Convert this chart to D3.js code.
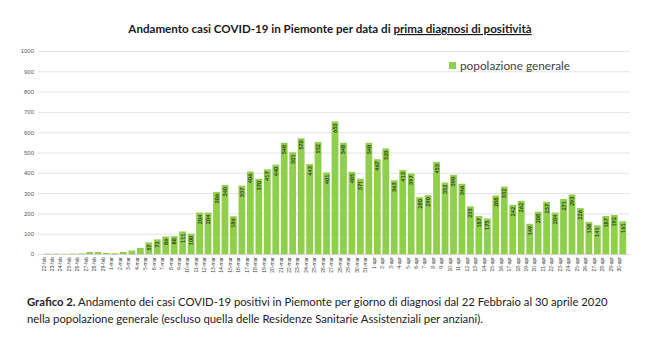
<!DOCTYPE html>
<html>
<head>
<meta charset="utf-8">
<script src="https://d3js.org/d3.v7.min.js"></script>
<style>
  body { margin: 0; background: #fff; font-family: Lato, "DejaVu Sans", sans-serif; }
  .grid line { stroke: #e4e4e4; }
  .grid path { display: none; }
  .yaxis text { fill: #595959; font-size: 6px; }
  .yaxis path, .yaxis line { display: none; }
  .xaxis text { fill: #404040; font-size: 5px; }
  .xaxis line { display: none; }
  .xaxis path { stroke: #d0d0d0; }
</style>
</head>
<body>
<script>
var categories = [
  "22-feb","23-feb","24-feb","25-feb","26-feb","27-feb","28-feb","29-feb",
  "1-mar","2-mar","3-mar","4-mar","5-mar","6-mar","7-mar","8-mar","9-mar","10-mar",
  "11-mar","12-mar","13-mar","14-mar","15-mar","16-mar","17-mar","18-mar","19-mar","20-mar",
  "21-mar","22-mar","23-mar","24-mar","25-mar","26-mar","27-mar","28-mar","29-mar","30-mar","31-mar",
  "1-apr","2-apr","3-apr","4-apr","5-apr","6-apr","7-apr","8-apr","9-apr","10-apr",
  "11-apr","12-apr","13-apr","14-apr","15-apr","16-apr","17-apr","18-apr","19-apr","20-apr",
  "21-apr","22-apr","23-apr","24-apr","25-apr","26-apr","27-apr","28-apr","29-apr","30-apr"
];

// popolazione generale, casi per data di prima diagnosi
var values = [
  2, 2, 1, 2, 3, 10, 10, 5,
  4, 10, 17, 30, 57, 72, 86, 88, 111, 100,
  204, 204, 306, 340, 186, 337, 406, 370, 417, 440,
  548, 501, 570, 443, 552, 401, 653, 548, 405, 371, 548,
  467, 520, 363, 413, 397, 280, 290, 453, 352, 390,
  346, 235, 187, 175, 288, 332, 242, 262, 149, 208,
  257, 204, 271, 293, 226, 158, 141, 187, 192, 161
];

var yTicks = [0, 100, 200, 300, 400, 500, 600, 700, 800, 900, 1000];
var seriesName = "popolazione generale";

var W = 650, H = 362;
var svg = d3.select("body").append("svg")
  .attr("width", W).attr("height", H);

var x = d3.scaleBand()
  .domain(categories)
  .range([43, 627])
  .paddingInner(0.2)
  .paddingOuter(0.1);

var y = d3.scaleLinear()
  .domain([0, 1000])
  .range([254, 51]);

var rows = values.map(function(v, i) { return {cat: categories[i], v: v}; });

// title
var title = svg.append("text")
  .attr("x", 330).attr("y", 33)
  .attr("text-anchor", "middle")
  .attr("font-size", "11.6px")
  .attr("font-weight", "bold")
  .attr("fill", "#1a1a1a");
title.append("tspan").text("Andamento casi COVID-19 in Piemonte per data di ");
title.append("tspan").attr("text-decoration", "underline").text("prima diagnosi di positività");

// gridlines
svg.append("g")
  .attr("class", "grid")
  .attr("transform", "translate(38,0)")
  .call(d3.axisLeft(y).tickValues(yTicks).tickSize(-592).tickFormat(""));

svg.append("g")
  .attr("class", "yaxis")
  .attr("transform", "translate(38,0)")
  .call(d3.axisLeft(y).tickValues(yTicks).tickSize(0).tickPadding(4).tickFormat(d3.format("d")));

// bars
svg.append("g").selectAll("rect")
  .data(rows)
  .join("rect")
  .attr("x", function(d) { return x(d.cat); })
  .attr("y", function(d) { return y(d.v); })
  .attr("width", x.bandwidth())
  .attr("height", function(d) { return y(0) - y(d.v); })
  .attr("fill", "#8fcf4c");

// data labels inside the bar tops
svg.append("g").selectAll("text")
  .data(rows.filter(function(d) { return d.v >= 50; }))
  .join("text")
  .attr("transform", function(d) {
    return "translate(" + (x(d.cat) + x.bandwidth() / 2 + 2) + "," + (y(d.v) + 2) + ") rotate(-90)";
  })
  .attr("text-anchor", "end")
  .attr("font-size", "5.5px")
  .attr("font-weight", "bold")
  .attr("fill", "#2b3a1a")
  .text(function(d) { return d.v; });

// x axis
var xa = svg.append("g")
  .attr("class", "xaxis")
  .attr("transform", "translate(0,254)")
  .call(d3.axisBottom(x).tickSize(0).tickSizeOuter(0));
xa.selectAll("text")
  .attr("transform", "rotate(-90)")
  .attr("text-anchor", "end")
  .attr("dx", "-3")
  .attr("dy", "-0.6em")
  .attr("x", 0).attr("y", 0)
  .style("dominant-baseline", "middle");

// legend
svg.append("rect")
  .attr("x", 449).attr("y", 62)
  .attr("width", 7).attr("height", 7)
  .attr("fill", "#8fcf4c");
svg.append("text")
  .attr("x", 460).attr("y", 69.5)
  .attr("font-size", "11.8px")
  .attr("fill", "#404040")
  .text(seriesName);

// caption
var cap1 = svg.append("text")
  .attr("x", 27).attr("y", 306)
  .attr("font-size", "11.3px")
  .attr("fill", "#222");
cap1.append("tspan").attr("font-weight", "bold").text("Grafico 2.");
cap1.append("tspan").text(" Andamento dei casi COVID-19 positivi in Piemonte per giorno di diagnosi dal 22 Febbraio al 30 aprile 2020");
svg.append("text")
  .attr("x", 27).attr("y", 323)
  .attr("font-size", "11.3px")
  .attr("fill", "#222")
  .text("nella popolazione generale (escluso quella delle Residenze Sanitarie Assistenziali per anziani).");
</script>
</body>
</html>
